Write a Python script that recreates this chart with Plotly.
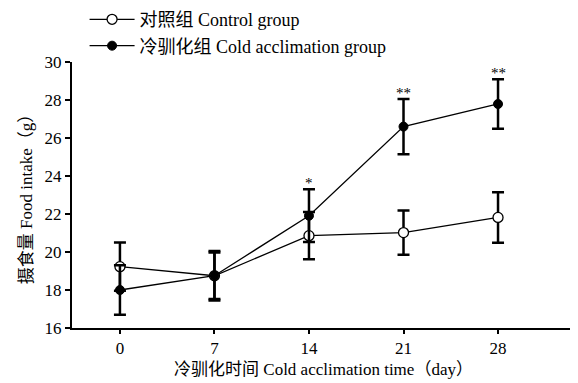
import plotly.graph_objects as go

days = [0, 7, 14, 21, 28]
control_mean = [19.23, 18.75, 20.86, 21.02, 21.82]
control_err = [1.27, 1.23, 1.24, 1.16, 1.33]
cold_mean = [18.0, 18.75, 21.91, 26.6, 27.79]
cold_err = [1.3, 1.3, 1.39, 1.45, 1.3]
sig_labels = ["", "", "*", "**", "**"]
y_ticks = [16, 18, 20, 22, 24, 26, 28, 30]

FONT = "Liberation Serif, Times New Roman, Noto Sans CJK SC, serif"

fig = go.Figure()
fig.add_trace(go.Scatter(
    x=days, y=control_mean, mode="lines+markers", name="对照组 Control group",
    line=dict(color="black", width=1.3),
    marker=dict(symbol="circle", size=10, color="white", line=dict(color="black", width=1.3)),
    error_y=dict(type="data", array=control_err, color="black", thickness=2.5, width=6),
))
fig.add_trace(go.Scatter(
    x=days, y=cold_mean, mode="lines+markers", name="冷驯化组 Cold acclimation group",
    line=dict(color="black", width=1.3),
    marker=dict(symbol="circle", size=9, color="black", line=dict(color="black", width=1)),
    error_y=dict(type="data", array=cold_err, color="black", thickness=2.5, width=6),
))

for d, m, e, s in zip(days, cold_mean, cold_err, sig_labels):
    if s:
        fig.add_annotation(x=d, y=m + e, text=s, showarrow=False, yanchor="bottom",
                           yshift=-4, font=dict(family=FONT, size=15, color="black"))

fig.update_layout(
    width=570, height=375,
    margin=dict(l=64, r=3, t=54, b=55, autoexpand=False),
    paper_bgcolor="white", plot_bgcolor="white",
    font=dict(family=FONT, color="black", size=17),
    showlegend=True,
    legend=dict(x=0.025, y=1.229, xanchor="left", yanchor="top",
                bgcolor="rgba(0,0,0,0)", font=dict(size=18, family=FONT),
                tracegroupgap=0, itemwidth=45),
    xaxis=dict(range=[-3.55, 33.7], tickvals=days, ticktext=[str(d) for d in days],
               showline=True, linecolor="black", linewidth=2, ticks="outside",
               ticklen=4, tickwidth=2, tickcolor="black", showgrid=False, zeroline=False,
               tickfont=dict(size=17),
               title=dict(text="冷驯化时间 Cold acclimation time（day）", standoff=6,
                          font=dict(size=17))),
    yaxis=dict(range=[16, 30], tickvals=y_ticks, showline=True, linecolor="black",
               linewidth=2, ticks="outside", ticklen=5, tickwidth=2, tickcolor="black",
               showgrid=False, zeroline=False, tickfont=dict(size=17),
               title=dict(text="摄食量 Food intake（g）", standoff=8, font=dict(size=17))),
)

fig.write_html("out.html")
